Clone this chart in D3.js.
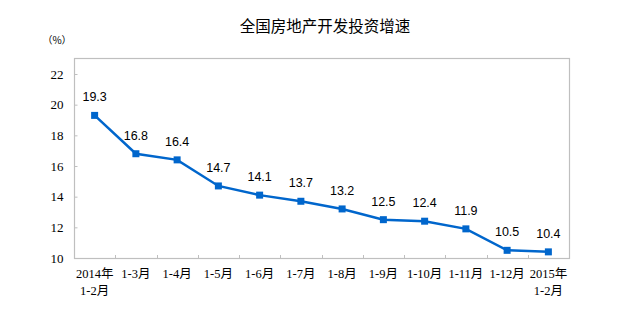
<!DOCTYPE html>
<html>
<head>
<meta charset="utf-8">
<script src="https://cdn.jsdelivr.net/npm/d3@7/dist/d3.min.js"></script>
<style>
  html, body { margin: 0; padding: 0; background: #fff; }
  svg { display: block; }
</style>
</head>
<body>
<svg id="chart" width="622" height="327"></svg>
<script>
// Cumulative year-on-year growth of national real estate development investment (%)
const categories = [
  ["2014年", "1-2月"], ["1-3月"], ["1-4月"], ["1-5月"], ["1-6月"], ["1-7月"],
  ["1-8月"], ["1-9月"], ["1-10月"], ["1-11月"], ["1-12月"], ["2015年", "1-2月"]
];
const growth = [19.3, 16.8, 16.4, 14.7, 14.1, 13.7, 13.2, 12.5, 12.4, 11.9, 10.5, 10.4];
const yTicks = [10, 12, 14, 16, 18, 20, 22];
const titleText = "全国房地产开发投资增速";
const unitText = "（%）";

const svg = d3.select("#chart");
const plotLeft = 74, plotRight = 569, plotTop = 58, plotBottom = 258;

const keys = categories.map(c => c.join(" "));
const x = d3.scaleBand().domain(keys).range([plotLeft, plotRight]);
const y = d3.scaleLinear().domain([10, 22]).range([plotBottom, 74]);

const serif = "'Liberation Serif', 'Noto Sans CJK SC', serif";
const cjk = "'Liberation Serif', 'Noto Sans CJK SC', sans-serif";

// title
svg.append("text")
  .attr("x", 325).attr("y", 32)
  .attr("text-anchor", "middle")
  .attr("font-family", "'Noto Sans CJK SC', sans-serif")
  .attr("font-size", 15.5)
  .attr("fill", "#000")
  .text(titleText);

// unit
svg.append("text")
  .attr("x", 57).attr("y", 44)
  .attr("text-anchor", "middle")
  .attr("font-family", "'Noto Sans CJK SC', sans-serif")
  .attr("font-size", 10)
  .attr("fill", "#000")
  .text(unitText);

// plot frame
svg.append("rect")
  .attr("x", plotLeft + 0.5).attr("y", plotTop + 0.5)
  .attr("width", plotRight - plotLeft).attr("height", plotBottom - plotTop)
  .attr("fill", "none")
  .attr("stroke", "#bfbfbf")
  .attr("stroke-width", 1.2);

// y axis: ticks point inward, labels on the left
const yAxis = d3.axisLeft(y).tickValues(yTicks).tickSize(-3).tickPadding(11)
  .tickFormat(d3.format("d"));
const gy = svg.append("g").attr("transform", `translate(${plotLeft + 0.5},0)`).call(yAxis);
gy.select(".domain").remove();
gy.selectAll(".tick line").attr("stroke", "#bfbfbf");
gy.selectAll(".tick text")
  .attr("font-family", serif).attr("font-size", 13).attr("fill", "#000");

// x axis: ticks at category boundaries, pointing inward
const boundaries = keys.slice(1).map(k => x(k));
svg.append("g").selectAll("line").data(boundaries).join("line")
  .attr("x1", d => Math.round(d) + 0.5).attr("x2", d => Math.round(d) + 0.5)
  .attr("y1", plotBottom).attr("y2", plotBottom - 3)
  .attr("stroke", "#bfbfbf");

// x labels (one or two lines)
const xl = svg.append("g").selectAll("text").data(categories).join("text")
  .attr("text-anchor", "middle")
  .attr("font-family", cjk).attr("font-size", 12.5).attr("fill", "#000")
  .attr("transform", (d, i) => `translate(${x(keys[i]) + x.bandwidth() / 2},${plotBottom + 20})`);
xl.selectAll("tspan").data(d => d).join("tspan")
  .attr("x", 0).attr("dy", (d, i) => i === 0 ? 0 : 17)
  .text(d => d);

// line
const cx = (d, i) => x(keys[i]) + x.bandwidth() / 2;
const line = d3.line().x(cx).y(d => y(d));
svg.append("path")
  .datum(growth)
  .attr("d", line)
  .attr("fill", "none")
  .attr("stroke", "#0066cc")
  .attr("stroke-width", 2.5);

// markers
svg.append("g").selectAll("rect").data(growth).join("rect")
  .attr("x", (d, i) => cx(d, i) - 3.5)
  .attr("y", d => y(d) - 3.5)
  .attr("width", 7).attr("height", 7)
  .attr("fill", "#0066cc");

// value labels
svg.append("g").selectAll("text").data(growth).join("text")
  .attr("x", (d, i) => cx(d, i))
  .attr("y", d => y(d) - 14)
  .attr("text-anchor", "middle")
  .attr("font-family", "'Liberation Sans', Arial, sans-serif")
  .attr("font-size", 12.5)
  .attr("fill", "#000")
  .text(d => d.toFixed(1));
</script>
</body>
</html>
